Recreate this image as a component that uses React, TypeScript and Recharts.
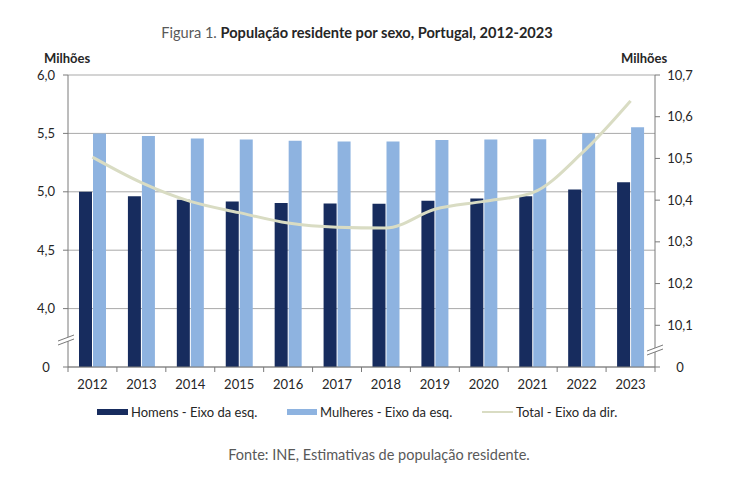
/** Combo chart: resident population by sex (bars, left axis) and total (line, right axis), Portugal 2012-2023. */

import { ComposedChart, Bar, Line, XAxis, YAxis, CartesianGrid } from 'recharts'

const years = ['2012', '2013', '2014', '2015', '2016', '2017', '2018', '2019', '2020', '2021', '2022', '2023']
const homens = [5.0, 4.962, 4.931, 4.917, 4.905, 4.9, 4.897, 4.923, 4.942, 4.962, 5.02, 5.082]
const mulheres = [5.5, 5.477, 5.457, 5.448, 5.437, 5.43, 5.43, 5.444, 5.447, 5.45, 5.502, 5.553]
const total = [10.503, 10.442, 10.397, 10.37, 10.345, 10.335, 10.333, 10.378, 10.397, 10.418, 10.512, 10.638]

// the lowest tick of each axis stands for the break and is labelled "0"
const leftTicks = [3.5, 4, 4.5, 5, 5.5, 6]
const rightTicks = [10, 10.1, 10.2, 10.3, 10.4, 10.5, 10.6, 10.7]

const chartData = years.map((year, i) => ({
  year,
  homens: homens[i],
  mulheres: mulheres[i],
  total: total[i],
}))

const NAVY = '#172c5e'
const LIGHT = '#8eb3e0'
const LINE = '#d9dcc3'
const AXIS = '#7a7a7a'
const GRID = '#a9a9a9'
const FONT = 'Lato, "Open Sans", sans-serif'
const BAND = (655 - 68) / years.length

const fmt = (v: number, base: number) => (v === base ? '0' : v.toFixed(1).replace('.', ','))

function AxisBreak({ x, y }: { x: number; y: number }) {
  return (
    <g>
      <polygon points={`${x - 8},${y + 1} ${x + 8},${y - 5} ${x + 8},${y - 1} ${x - 8},${y + 5}`} fill="#fff" />
      <line x1={x - 8} y1={y + 1} x2={x + 8} y2={y - 5} stroke={AXIS} strokeWidth={1} />
      <line x1={x - 8} y1={y + 5} x2={x + 8} y2={y - 1} stroke={AXIS} strokeWidth={1} />
    </g>
  )
}

function LeftTick({ x, y, payload }: any) {
  return (
    <g>
      <text x={x} y={y} dy={4.5} textAnchor="middle" fontSize={13} fill="#262626" fontFamily={FONT}>
        {fmt(payload.value, 3.5)}
      </text>
      {payload.value === 3.5 && <AxisBreak x={x + 20} y={y - 27} />}
    </g>
  )
}

function RightTick({ x, y, payload }: any) {
  return (
    <g>
      <text x={x} y={y} dy={4.5} textAnchor="middle" fontSize={13} fill="#262626" fontFamily={FONT}>
        {fmt(payload.value, 10)}
      </text>
      {payload.value === 10 && <AxisBreak x={x - 25} y={y - 17} />}
    </g>
  )
}

function YearTick({ x, y, payload, index }: any) {
  const half = payload.offset || BAND / 2
  const axisY = y - 13
  return (
    <g>
      <line x1={x - half} x2={x - half} y1={axisY} y2={axisY + 5} stroke={AXIS} />
      {index === years.length - 1 && <line x1={x + half} x2={x + half} y1={axisY} y2={axisY + 5} stroke={AXIS} />}
      <text x={x} y={y} dy={9} textAnchor="middle" fontSize={13} fill="#262626" fontFamily={FONT}>
        {payload.value}
      </text>
    </g>
  )
}

const legendText = { position: 'absolute' as const, top: 403, fontSize: 13, color: '#262626', lineHeight: '18px' }

export default function App() {
  return (
    <div style={{ position: 'absolute', left: 0, top: 0, width: 750, height: 500, background: '#fff', fontFamily: FONT }}>
      <div style={{ position: 'absolute', left: 0, width: 714, top: 24, textAlign: 'center', fontSize: 14.6, lineHeight: '18px' }}>
        <span style={{ color: '#595959' }}>Figura 1. </span>
        <span style={{ color: '#262626', fontWeight: 700 }}>População residente por sexo, Portugal, 2012-2023</span>
      </div>
      <div style={{ position: 'absolute', left: 44, top: 50, fontSize: 13, fontWeight: 700, color: '#262626' }}>Milhões</div>
      <div style={{ position: 'absolute', left: 621, top: 50, fontSize: 13, fontWeight: 700, color: '#262626' }}>Milhões</div>

      <div style={{ position: 'absolute', left: 0, top: 0 }}>
        <ComposedChart
          width={750}
          height={500}
          data={chartData}
          margin={{ top: 75, right: 55, left: 38, bottom: 103 }}
          barGap={1}
        >
          <CartesianGrid yAxisId="left" vertical={false} stroke={GRID} />
          <XAxis
            dataKey="year"
            height={30}
            tickLine={false}
            tickSize={5}
            tickMargin={8}
            axisLine={{ stroke: AXIS }}
            tick={<YearTick />}
            interval={0}
          />
          <YAxis
            yAxisId="left"
            width={30}
            domain={[3.5, 6]}
            ticks={leftTicks}
            tickSize={5}
            tickMargin={17}
            axisLine={{ stroke: AXIS }}
            tickLine={{ stroke: AXIS }}
            tick={<LeftTick />}
            allowDataOverflow
          />
          <YAxis
            yAxisId="right"
            orientation="right"
            width={40}
            domain={[10, 10.7]}
            ticks={rightTicks}
            tickSize={5}
            tickMargin={20}
            axisLine={{ stroke: AXIS }}
            tickLine={{ stroke: AXIS }}
            tick={<RightTick />}
            allowDataOverflow
          />
          <Bar yAxisId="left" dataKey="homens" fill={NAVY} barSize={13} isAnimationActive={false} />
          <Bar yAxisId="left" dataKey="mulheres" fill={LIGHT} barSize={13} isAnimationActive={false} />
          <Line
            yAxisId="right"
            type="monotone"
            dataKey="total"
            stroke={LINE}
            strokeWidth={3}
            dot={false}
            isAnimationActive={false}
          />
        </ComposedChart>
      </div>

      <div style={{ position: 'absolute', left: 97, top: 409, width: 31, height: 6, background: NAVY }} />
      <div style={{ ...legendText, left: 131 }}>Homens - Eixo da esq.</div>
      <div style={{ position: 'absolute', left: 287, top: 409, width: 30, height: 6, background: LIGHT }} />
      <div style={{ ...legendText, left: 320 }}>Mulheres - Eixo da esq.</div>
      <div style={{ position: 'absolute', left: 482, top: 411, width: 31, height: 2, background: LINE }} />
      <div style={{ ...legendText, left: 516 }}>Total - Eixo da dir.</div>

      <div style={{ position: 'absolute', left: 0, width: 758, top: 446, textAlign: 'center', fontSize: 14.5, color: '#595959', lineHeight: '18px' }}>
        Fonte: INE, Estimativas de população residente.
      </div>
    </div>
  )
}
